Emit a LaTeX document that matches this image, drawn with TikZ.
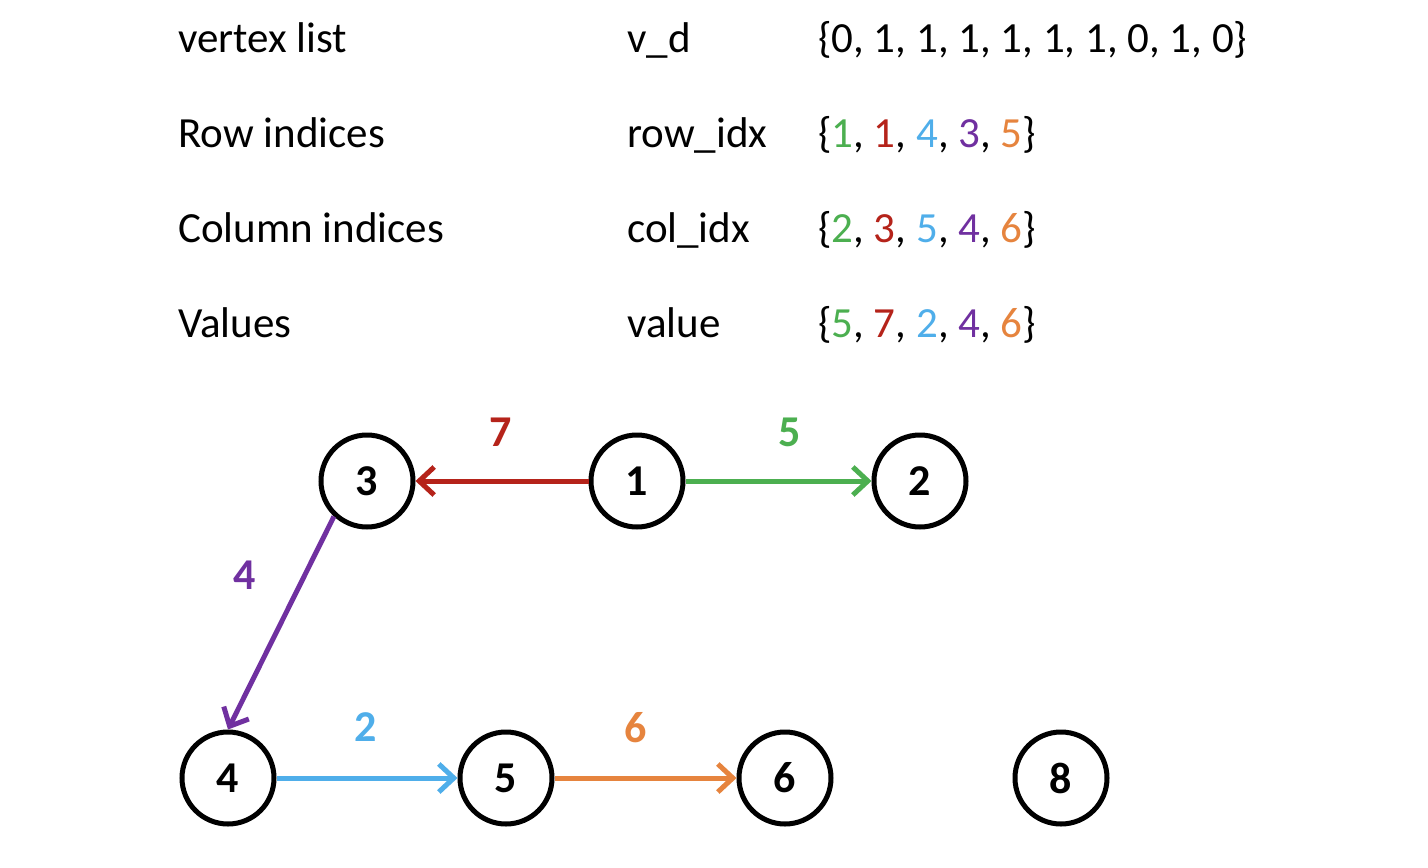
\documentclass[tikz,border=0pt]{standalone}
\usepackage{fontspec}
\setmainfont{Carlito}
\usetikzlibrary{arrows.meta}
\definecolor{cgreen}{RGB}{76,175,80}
\definecolor{cred}{RGB}{181,35,26}
\definecolor{cblue}{RGB}{79,174,234}
\definecolor{cpurple}{RGB}{112,48,160}
\definecolor{corange}{RGB}{230,132,62}
\begin{document}
\begin{tikzpicture}[x=1pt,y=-1pt,
  txt/.style={anchor=base west,inner sep=0pt,font=\fontsize{43}{50}\selectfont},
  vert/.style={circle,draw=black,line width=5pt,minimum size=92pt,inner sep=0pt,font=\fontsize{44}{50}\selectfont\bfseries},
  elab/.style={font=\fontsize{44}{50}\selectfont\bfseries,inner sep=0pt},
  edge/.style={line width=5pt,-{Straight Barb[length=15pt,width=28pt,line width=5pt]}}]
\path[use as bounding box,fill=white] (0,0) rectangle (1428,868);
% table
\node[txt] (l1) at (178,52) {vertex list};
\node[txt] (l2) at (178,147) {Row indices};
\node[txt] (l3) at (178,242) {Column indices};
\node[txt] (l4) at (178,337) {Values};
\node[txt] (m1) at (627,52) {v\_d};
\node[txt] (m2) at (627,147) {row\_idx};
\node[txt] (m3) at (627,242) {col\_idx};
\node[txt] (m4) at (627,337) {value};
\node[txt] (r1) at (818,52) {\{0, 1, 1, 1, 1, 1, 1, 0, 1, 0\}};
\node[txt] (r2) at (818,147) {\{\textcolor{cgreen}{1}, \textcolor{cred}{1}, \textcolor{cblue}{4}, \textcolor{cpurple}{3}, \textcolor{corange}{5}\}};
\node[txt] (r3) at (818,242) {\{\textcolor{cgreen}{2}, \textcolor{cred}{3}, \textcolor{cblue}{5}, \textcolor{cpurple}{4}, \textcolor{corange}{6}\}};
\node[txt] (r4) at (818,337) {\{\textcolor{cgreen}{5}, \textcolor{cred}{7}, \textcolor{cblue}{2}, \textcolor{cpurple}{4}, \textcolor{corange}{6}\}};
% graph
\node[vert] (n3) at (367,481) {3};
\node[vert] (n1) at (637,481) {1};
\node[vert] (n2) at (920,481) {2};
\node[vert] (n4) at (228,778) {4};
\node[vert] (n5) at (506,778) {5};
\node[vert] (n6) at (785,778) {6};
\node[vert] (n8) at (1061,778) {8};
\draw[edge,cred] (n1.west) -- (n3.east);
\draw[edge,cgreen] (n1.east) -- (n2.west);
\draw[edge,cpurple] (n3.227) -- (n4.north);
\draw[edge,cblue] (n4.east) -- (n5.west);
\draw[edge,corange] (n5.east) -- (n6.west);
\node[elab,text=cred] (e7) at (501,432) {7};
\node[elab,text=cgreen] (e5) at (790,432) {5};
\node[elab,text=cpurple] (e4) at (245,575) {4};
\node[elab,text=cblue] (e2) at (366,727) {2};
\node[elab,text=corange] (e6) at (636,728) {6};
\end{tikzpicture}
\end{document}
